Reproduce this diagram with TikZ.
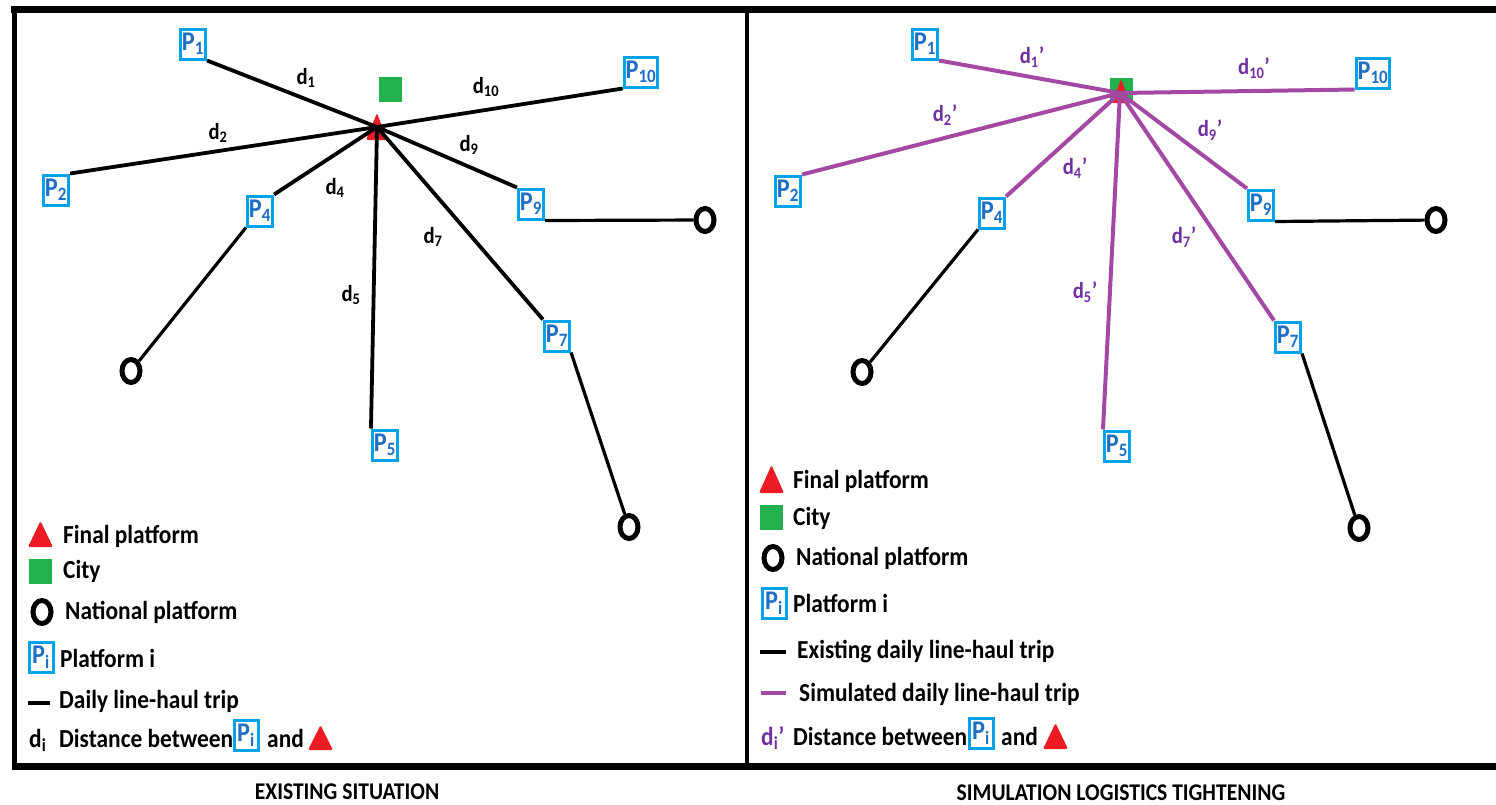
\documentclass[tikz,border=0pt]{standalone}
\usepackage{fontspec}
\setmainfont{Carlito}[FakeStretch=0.9]
\usetikzlibrary{shapes.geometric,backgrounds}
\definecolor{pblue}{HTML}{00A2E8}
\definecolor{ptext}{HTML}{1F6FC5}
\definecolor{pred}{HTML}{ED1C24}
\definecolor{pgreen}{HTML}{22B14C}
\definecolor{ppurple}{HTML}{A349A4}
\definecolor{plabel}{HTML}{7030A0}
\begin{document}
\begin{tikzpicture}[x=1pt,y=-1pt,
  pbox/.style={draw=pblue, line width=3pt, text=ptext, font=\bfseries\fontsize{27}{27}\selectfont, inner xsep=1.5pt, inner ysep=0pt, minimum width=24pt, minimum height=30pt},
  natl/.style={draw=black, line width=5pt, ellipse, minimum width=18pt, minimum height=23pt, inner sep=0pt},
  city/.style={fill=pgreen, inner sep=0pt, minimum width=23pt, minimum height=25pt},
  trip/.style={draw=black, line width=3.8pt},
  sim/.style={draw=ppurple, line width=4pt},
  dlab/.style={font=\bfseries\fontsize{23}{23}\selectfont, inner sep=0pt},
  plab/.style={dlab, text=plabel},
  legtxt/.style={font=\bfseries\fontsize{26}{26}\selectfont, anchor=base west, inner sep=0pt},
  capt/.style={font=\bfseries\fontsize{24}{24}\selectfont, inner sep=0pt},
  tri/.style={fill=pred, rounded corners=1.5pt}
]
\useasboundingbox (0,0) rectangle (1496,804);
% frame
\draw[line width=7pt] (11,9.5) -- (1496,9.5);
\draw[line width=5pt] (14.5,6) -- (14.5,769);
\draw[line width=7pt] (12,766.5) -- (1496,766.5);
\draw[line width=4pt] (747,9.5) -- (747,766.5);

% ===== LEFT PANEL =====
\coordinate (hubL) at (377,127);
\node[city] (cityL) at (390,89.5) {};
\node[pbox] (L1) at (193,44) {P\textsubscript{1}};
\node[pbox] (L2) at (56,190) {P\textsubscript{2}};
\node[pbox] (L4) at (260,211) {P\textsubscript{4}};
\node[pbox] (L5) at (385,445) {P\textsubscript{5}};
\node[pbox] (L7) at (557,336) {P\textsubscript{7}};
\node[pbox] (L9) at (531,204) {P\textsubscript{9}};
\node[pbox] (L10) at (641,72) {P\textsubscript{10}};
\node[natl] (NL4) at (131,371) {};
\node[natl] (NL7) at (629,527) {};
\node[natl] (NL9) at (705,220) {};
\begin{pgfonlayer}{background}
\fill[tri] (366,140) -- (377,113) -- (387,140) -- cycle;
\draw[trip] (hubL) -- (L1.south east);
\draw[trip] (hubL) -- (L2.north east);
\draw[trip] (hubL) -- (L4.north east);
\draw[trip] (hubL) -- (L5.north west);
\draw[trip] (hubL) -- (L7.north west);
\draw[trip] (hubL) -- (L9.north west);
\draw[trip] (hubL) -- (L10.south west);
\draw[trip, line width=3.2pt] (L4.south west) -- (NL4);
\draw[trip, line width=3.2pt] (L7.south east) -- (NL7);
\draw[trip, line width=3.2pt] (L9.south east) -- (NL9);
\end{pgfonlayer}
\node[dlab] (dL1) at (306,78) {d\textsubscript{1}};
\node[dlab] (dL10) at (486,87) {d\textsubscript{10}};
\node[dlab] (dL2) at (218,133) {d\textsubscript{2}};
\node[dlab] (dL9) at (469,145) {d\textsubscript{9}};
\node[dlab] (dL4) at (335,188) {d\textsubscript{4}};
\node[dlab] (dL7) at (433,237) {d\textsubscript{7}};
\node[dlab] (dL5) at (351,295) {d\textsubscript{5}};

% left legend
\fill[tri] (28,547) -- (40.5,521) -- (53,547) -- cycle;
\node[legtxt] (lgL1) at (63,543) {Final platform};
\node[city] (lgLc) at (40.5,571.5) {};
\node[legtxt] (lgL2) at (63,578) {City};
\node[natl] (lgLn) at (42,612) {};
\node[legtxt] (lgL3) at (65,619) {National platform};
\node[pbox] (lgLp) at (41,657) {P\textsubscript{i}};
\node[legtxt] (lgL4) at (60,667) {Platform i};
\coordinate (lgLd1) at (28,703);
\coordinate (lgLd2) at (50,703);
\draw[line width=4pt] (lgLd1) -- (lgLd2);
\node[legtxt] (lgL5) at (59,708) {Daily line-haul trip};
\node[legtxt] (lgL6a) at (29,747) {d\textsubscript{i}};
\node[legtxt] (lgL6) at (59,747) {Distance between};
\node[pbox] (lgLp2) at (246,735) {P\textsubscript{i}};
\node[legtxt] (lgL7) at (267,747) {and};
\fill[tri] (308,750) -- (320.5,725) -- (333,750) -- cycle;

% ===== RIGHT PANEL =====
\coordinate (hubR) at (1120,93);
\node[pbox] (R1) at (925,44) {P\textsubscript{1}};
\node[pbox] (R2) at (788,191) {P\textsubscript{2}};
\node[pbox] (R4) at (992,213) {P\textsubscript{4}};
\node[pbox] (R5) at (1117,446) {P\textsubscript{5}};
\node[pbox] (R7) at (1288,337) {P\textsubscript{7}};
\node[pbox] (R9) at (1261,205) {P\textsubscript{9}};
\node[pbox] (R10) at (1373,73) {P\textsubscript{10}};
\node[natl] (NR4) at (862,372) {};
\node[natl] (NR7) at (1359,528) {};
\node[natl] (NR9) at (1436,220) {};
\begin{pgfonlayer}{background}
\node[city] (cityR) at (1121.5,90.5) {};
\fill[tri] (1112,103) -- (1121,79) -- (1130,103) -- cycle;
\draw[sim] (hubR) -- (R1.south east);
\draw[sim] (hubR) -- (R2.north east);
\draw[sim] (hubR) -- (R4.north east);
\draw[sim] (hubR) -- (R5.north west);
\draw[sim] (hubR) -- (R7.north west);
\draw[sim] (hubR) -- (R9.north west);
\draw[sim] (hubR) -- (R10.south west);
\draw[trip, line width=3.2pt] (R4.south west) -- (NR4);
\draw[trip, line width=3.2pt] (R7.south east) -- (NR7);
\draw[trip, line width=3.2pt] (R9.south east) -- (NR9);
\end{pgfonlayer}
\node[plab] (dR1) at (1032,57) {d\textsubscript{1}’};
\node[plab] (dR10) at (1254,68) {d\textsubscript{10}’};
\node[plab] (dR2) at (945,115) {d\textsubscript{2}’};
\node[plab] (dR9) at (1210,130) {d\textsubscript{9}’};
\node[plab] (dR4) at (1075,168) {d\textsubscript{4}’};
\node[plab] (dR7) at (1184,237) {d\textsubscript{7}’};
\node[plab] (dR5) at (1085,292) {d\textsubscript{5}’};

% right legend
\fill[tri] (759,493) -- (771.5,465) -- (784,493) -- cycle;
\node[legtxt] (lgR1) at (793,488) {Final platform};
\node[city] (lgRc) at (771.5,517) {};
\node[legtxt] (lgR2) at (793,525) {City};
\node[natl] (lgRn) at (773,558) {};
\node[legtxt] (lgR3) at (796,565) {National platform};
\node[pbox] (lgRp) at (774,603) {P\textsubscript{i}};
\node[legtxt] (lgR4) at (793,612) {Platform i};
\coordinate (lgRd1) at (760,652);
\coordinate (lgRd2) at (786,652);
\draw[line width=4pt] (lgRd1) -- (lgRd2);
\node[legtxt] (lgR5) at (797,658) {Existing daily line-haul trip};
\coordinate (lgRd3) at (761,693);
\coordinate (lgRd4) at (786,693);
\draw[draw=ppurple, line width=4pt] (lgRd3) -- (lgRd4);
\node[legtxt] (lgR6) at (799,701) {Simulated daily line-haul trip};
\node[legtxt, text=plabel] (lgR7a) at (761,745) {d\textsubscript{i}’};
\node[legtxt] (lgR7) at (793,745) {Distance between};
\node[pbox] (lgRp2) at (981,733.5) {P\textsubscript{i}};
\node[legtxt] (lgR8) at (1001,745) {and};
\fill[tri] (1043,749) -- (1055.5,723) -- (1068,749) -- cycle;

% captions
\node[capt] (capL) at (347,792) {EXISTING SITUATION};
\node[capt] (capR) at (1121,793) {SIMULATION LOGISTICS TIGHTENING};
\end{tikzpicture}
\end{document}
